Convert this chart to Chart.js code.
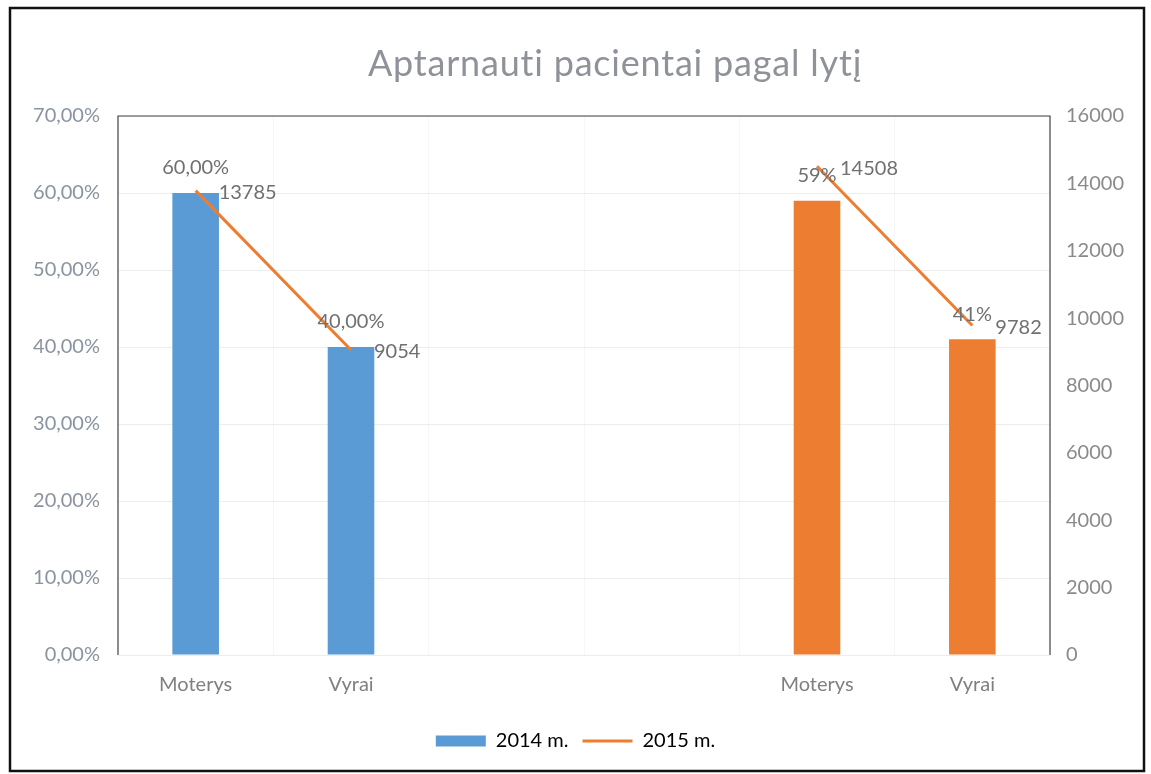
<!DOCTYPE html>
<html>
<head>
<meta charset="utf-8">
<script src="https://cdn.jsdelivr.net/npm/chart.js@4.4.1/dist/chart.umd.min.js"></script>
<style>
  html, body { margin: 0; padding: 0; background: #fff; }
  #wrap { width: 1151px; height: 774px; }
</style>
</head>
<body>
<div id="wrap"><canvas id="chart" width="1151" height="774"></canvas></div>
<script>
// Data
const categories = ['Moterys', 'Vyrai', '', '', 'Moterys', 'Vyrai'];
const sharePct = [60, 40, null, null, 59, 41];
const shareLabels = ['60,00%', '40,00%', '', '', '59%', '41%'];
const patients = [13785, 9054, null, null, 14508, 9782];
const seriesNames = ['2014 m.', '2015 m.'];
const leftTicks = [0, 70, 10];
const rightTicks = [0, 16000, 2000];
const titleText = 'Aptarnauti pacientai pagal lytį';

const BLUE = '#5B9BD5';
const ORANGE = '#ED7D31';
const FONT = 'Lato';
const barColors = [BLUE, BLUE, BLUE, BLUE, ORANGE, ORANGE];

// frame, title, plot border
const framePlugin = {
  id: 'frame',
  beforeDraw(chart) {
    const ctx = chart.ctx;
    ctx.save();
    ctx.fillStyle = '#fff';
    ctx.fillRect(0, 0, chart.width, chart.height);
    ctx.strokeStyle = '#111';
    ctx.lineWidth = 2.5;
    ctx.strokeRect(10, 8, 1134, 763);
    // title (Excel put it a bit right of centre)
    ctx.font = '36px ' + FONT;
    ctx.letterSpacing = '0.8px';
    ctx.fillStyle = '#8f9399';
    ctx.textAlign = 'center';
    ctx.textBaseline = 'middle';
    ctx.fillText(titleText, 615, 64);
    ctx.restore();
  },
  afterDatasetsDraw(chart) {
    const { ctx, chartArea: a } = chart;
    ctx.save();
    ctx.strokeStyle = '#444';
    ctx.lineWidth = 1.2;
    ctx.beginPath();
    ctx.moveTo(a.left, a.bottom);
    ctx.lineTo(a.left, a.top);
    ctx.lineTo(a.right, a.top);
    ctx.lineTo(a.right, a.bottom);
    ctx.stroke();
    ctx.restore();
  }
};

// value labels
const labelPlugin = {
  id: 'valueLabels',
  afterDatasetsDraw(chart) {
    const ctx = chart.ctx;
    ctx.save();
    ctx.font = '20px ' + FONT;
    ctx.fillStyle = '#707070';
    ctx.textBaseline = 'middle';
    chart.getDatasetMeta(0).data.forEach((bar, i) => {
      if (sharePct[i] == null) return;
      ctx.textAlign = 'center';
      ctx.fillText(shareLabels[i], bar.x, bar.y - 25);
    });
    chart.getDatasetMeta(1).data.forEach((pt, i) => {
      if (patients[i] == null) return;
      ctx.textAlign = 'left';
      ctx.fillText(String(patients[i]), pt.x + 23, pt.y + 2);
    });
    ctx.restore();
  }
};

new Chart(document.getElementById('chart'), {
  data: {
    labels: categories,
    datasets: [
      {
        type: 'bar', label: seriesNames[0], data: sharePct, yAxisID: 'y',
        backgroundColor: barColors, barPercentage: 0.3, categoryPercentage: 1, order: 2
      },
      {
        type: 'line', label: seriesNames[1], data: patients, yAxisID: 'y1',
        borderColor: ORANGE, borderWidth: 3, pointRadius: 0, spanGaps: false,
        tension: 0, order: 1
      }
    ]
  },
  options: {
    responsive: false,
    animation: false,
    layout: { padding: { top: 116, left: 0, right: 0, bottom: 13 } },
    plugins: {
      title: { display: false },
      legend: {
        position: 'bottom',
        labels: {
          color: '#404040',
          font: { family: FONT, size: 20 },
          usePointStyle: true,
          pointStyleWidth: 50,
          boxHeight: 11,
          padding: 14,
          generateLabels: () => [
            { text: seriesNames[0], fillStyle: BLUE, strokeStyle: BLUE, lineWidth: 0, pointStyle: 'rect', datasetIndex: 0, hidden: false },
            { text: seriesNames[1], fillStyle: ORANGE, strokeStyle: ORANGE, lineWidth: 3, pointStyle: 'line', datasetIndex: 1, hidden: false }
          ]
        }
      },
      tooltip: { enabled: false }
    },
    scales: {
      x: {
        grid: { display: true, color: 'rgba(0,0,0,0.03)', drawTicks: false, offset: true },
        border: { display: false },
        ticks: { color: '#808080', font: { family: FONT, size: 20 }, padding: 18, maxRotation: 0 },
        afterFit: s => { s.height = 62; }
      },
      y: {
        position: 'left', min: leftTicks[0], max: leftTicks[1],
        grid: { color: 'rgba(0,0,0,0.07)', drawTicks: false },
        border: { display: false },
        ticks: {
          stepSize: leftTicks[2], color: '#8a93a0', font: { family: FONT, size: 20 }, padding: 18,
          callback: v => v.toFixed(2).replace('.', ',') + '%'
        },
        afterFit: s => { s.width = 118; }
      },
      y1: {
        position: 'right', min: rightTicks[0], max: rightTicks[1],
        grid: { drawOnChartArea: false, drawTicks: false },
        border: { display: false },
        ticks: {
          stepSize: rightTicks[2], color: '#8a8a8a', font: { family: FONT, size: 20 }, padding: 16,
          callback: v => String(v)
        },
        afterFit: s => { s.width = 101; }
      }
    }
  },
  plugins: [framePlugin, labelPlugin]
});
</script>
</body>
</html>
